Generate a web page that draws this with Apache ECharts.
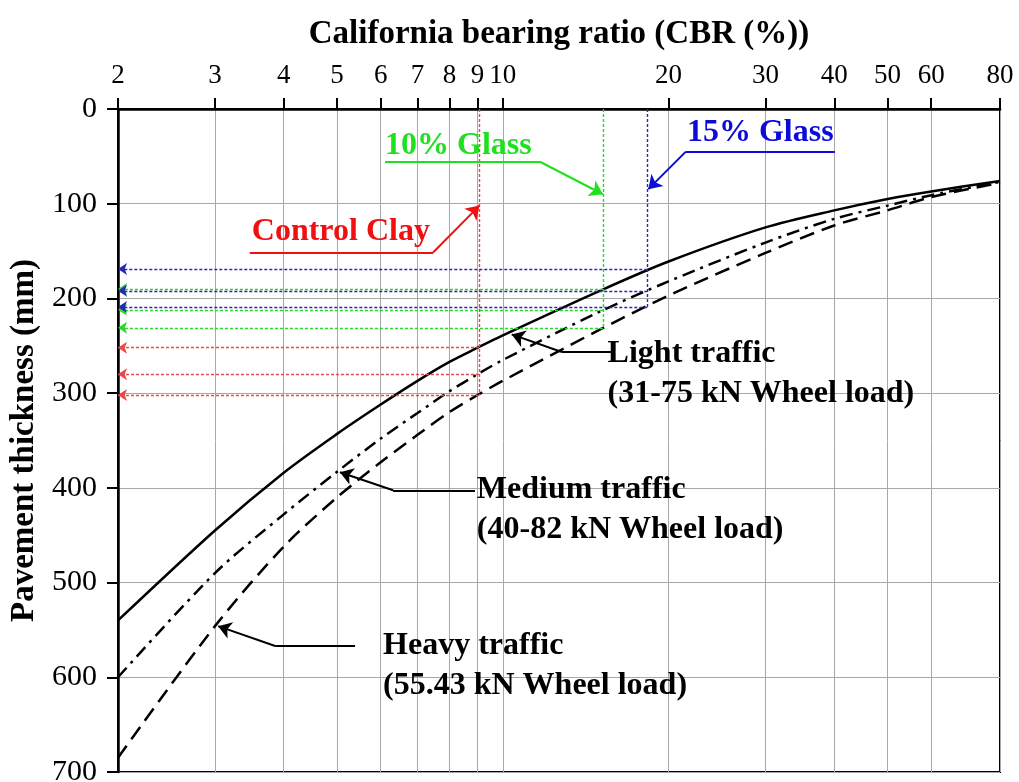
<!DOCTYPE html>
<html>
<head>
<meta charset="utf-8">
<script src="https://cdn.jsdelivr.net/npm/echarts@6/dist/echarts.min.js"></script>
<style>
html,body{margin:0;padding:0;background:#fff;}
#chart{width:1019px;height:782px;}
</style>
</head>
<body>
<div id="chart"></div>
<script>
// ---- data ----
const cbr    = [2, 3, 4, 5, 6, 7, 8, 9, 10, 15, 20, 30, 40, 50, 60, 80];
const light  = [540, 445, 384, 343, 312, 287, 267, 252, 239, 192, 161, 125, 107, 95, 87, 76];
const medium = [600, 490, 428, 383, 348, 321, 298, 280, 265, 214, 182, 141, 116, 102, 91, 77];
const heavy  = [685, 546, 462, 410, 373, 344, 320, 302, 287, 233, 197, 152, 123, 107, 93, 78];

const xTickValues = [2, 3, 4, 5, 6, 7, 8, 9, 10, 20, 30, 40, 50, 60, 80];
const yMin = 0, yMax = 700, yStep = 100;

// guide lines (CBR of each soil, thickness read on each curve)
const clayCBR = 9.05;   const clayT = [252, 280, 302];
const glass10CBR = 15.2; const glass10T = [190, 212, 231];
const glass15CBR = 18.3; const glass15T = [169, 192, 209];

// annotation anchors [CBR, thickness]
const clayLabel = [3.5, 130];
const clayLeader = [[3.47, 151.5], [7.47, 151.5], [9.07, 102]];
const g10Label = [6.11, 39];
const g10Leader = [[6.11, 55.7], [11.68, 55.7], [15.2, 90]];
const g15Label = [21.6, 25];
const g15Leader = [[40.1, 45], [21.5, 45], [18.38, 84.6]];
const lightLabel = [15.5, 280];
const lightLeader = [[15.8, 256.6], [12.8, 256.6], [10.38, 238]];
const medLabel = [8.97, 423];
const medLeader = [[8.9, 402.6], [6.32, 402.6], [5.06, 383.5]];
const heavyLabel = [6.06, 588];
const heavyLeader = [[5.39, 567], [3.86, 567], [3.04, 546]];

// ---- build ----
const L = Math.log10;
const SERIF = '"Liberation Serif", "Times New Roman", serif';
const pts = arr => cbr.map((c, i) => [L(c), arr[i]]);
const P = p => [L(p[0]), p[1]];

function seg(a, b, color, width, type, arrowEnd, size) {
  return [
    { coord: P(a), symbol: 'none', lineStyle: { color, width, type } },
    { coord: P(b), symbol: arrowEnd ? 'arrow' : 'none', symbolSize: size || 12,
      itemStyle: { color } }
  ];
}
function leader(points, color) {
  return [
    seg(points[0], points[1], color, 2, 'solid', false),
    seg(points[1], points[2], color, 2, 'solid', true, 13)
  ];
}
function guides(c, ts, color) {
  const out = [seg([c, 0], [c, Math.max(...ts)], color, 1.4, [3, 2], false)];
  ts.forEach(t => out.push(seg([c, t], [cbr[0], t], color, 1.3, [3, 2], true, 9)));
  return out;
}
function helper(name, data) {
  return {
    name, type: 'line', data: [], silent: true, animation: false, z: 3,
    markLine: { silent: true, animation: false, symbol: ['none', 'none'],
      label: { show: false }, emphasis: { disabled: true }, data }
  };
}
function textItem(pos, text, color) {
  return {
    value: P(pos),
    itemStyle: { opacity: 1 },
    label: { show: true, position: 'right', distance: 0, formatter: text,
      color, fontFamily: SERIF, fontWeight: 'bold', fontSize: 32, lineHeight: 40, align: 'left' }
  };
}

const RED = '#f01010', GREEN = '#1ee01e', BLUE = '#0c0cd8';
const RED_D = '#e84848', GREEN_D = '#28d828', BLUE_D = '#2828b0';

const option = {
  animation: false,
  grid: { left: 118, right: 19, top: 109, bottom: 10, show: true,
    outerBoundsMode: 'none', containLabel: false,
    borderColor: '#000', borderWidth: 2, backgroundColor: '#fff' },
  xAxis: {
    type: 'value', position: 'top', min: L(2), max: L(80),
    name: 'California bearing ratio (CBR (%))', nameLocation: 'middle', nameGap: 58,
    nameTextStyle: { fontFamily: SERIF, fontWeight: 'bold', fontSize: 33, color: '#000' },
    axisLine: { show: true, lineStyle: { color: '#000', width: 2.5 } },
    axisTick: { show: true, inside: false, length: 11, customValues: xTickValues.map(L),
      lineStyle: { color: '#000', width: 2 } },
    axisLabel: { customValues: xTickValues.map(L), margin: 20,
      formatter: v => String(Math.round(Math.pow(10, v))),
      fontFamily: SERIF, fontSize: 27, color: '#000' },
    splitLine: { show: true, lineStyle: { color: '#a8a8a8', width: 1 } }
  },
  yAxis: {
    type: 'value', inverse: true, min: yMin, max: yMax, interval: yStep,
    name: 'Pavement thickness (mm)', nameLocation: 'middle', nameGap: 62,
    nameTextStyle: { fontFamily: SERIF, fontWeight: 'bold', fontSize: 33, color: '#000' },
    axisLine: { show: true, lineStyle: { color: '#000', width: 2.5 } },
    axisTick: { show: true, inside: false, length: 11, lineStyle: { color: '#000', width: 2 } },
    axisLabel: { margin: 21, fontFamily: SERIF, fontSize: 30, color: '#000' },
    splitLine: { show: true, lineStyle: { color: '#a8a8a8', width: 1 } }
  },
  series: [
    helper('clay', guides(clayCBR, clayT, RED_D)),
    helper('g10', guides(glass10CBR, glass10T, GREEN_D)),
    helper('g15', guides(glass15CBR, glass15T, BLUE_D)),
    { name: 'Light traffic', type: 'line', data: pts(light), showSymbol: false, smooth: 0.3,
      lineStyle: { color: '#000', width: 2.5 }, silent: true },
    { name: 'Medium traffic', type: 'line', data: pts(medium), showSymbol: false, smooth: 0.3,
      lineStyle: { color: '#000', width: 2.5, type: [13, 6, 3, 6] }, silent: true },
    { name: 'Heavy traffic', type: 'line', data: pts(heavy), showSymbol: false, smooth: 0.3,
      lineStyle: { color: '#000', width: 2.5, type: [15, 8] }, silent: true },
    helper('leaders', [
      ...leader(clayLeader, RED), ...leader(g10Leader, GREEN), ...leader(g15Leader, BLUE),
      ...leader(lightLeader, '#000'), ...leader(medLeader, '#000'), ...leader(heavyLeader, '#000')
    ]),
    { name: 'labels', type: 'scatter', symbolSize: 0, silent: true, z: 5,
      itemStyle: { opacity: 1 },
      data: [
        textItem(clayLabel, 'Control Clay', RED),
        textItem(g10Label, '10% Glass', GREEN),
        textItem(g15Label, '15% Glass', BLUE),
        textItem(lightLabel, 'Light traffic\n(31-75 kN Wheel load)', '#000'),
        textItem(medLabel, 'Medium traffic\n(40-82 kN Wheel load)', '#000'),
        textItem(heavyLabel, 'Heavy traffic\n(55.43 kN Wheel load)', '#000')
      ] }
  ]
};
const chart = echarts.init(document.getElementById('chart'), null, { renderer: 'canvas' });
chart.setOption(option);
</script>
</body>
</html>
